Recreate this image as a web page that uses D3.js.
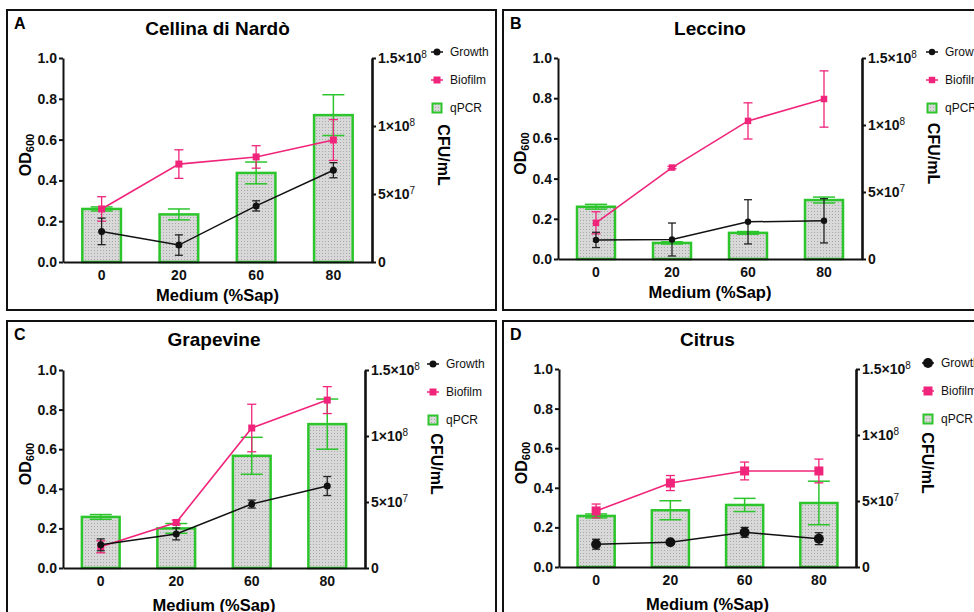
<!DOCTYPE html>
<html><head><meta charset="utf-8">
<script src="https://cdn.jsdelivr.net/npm/d3@7"></script>
<style>
body{margin:0;background:#fff;}
svg{display:block;font-family:"Liberation Sans", Arial, Helvetica, sans-serif;}
</style>
</head><body>
<svg id="chart" width="974" height="612"></svg>
<script>
// Medium composition (% sap) on the x axis
const categories = ["0", "20", "60", "80"];
const panelLetters = ["A", "B", "C", "D"];
const panelTitles = ["Cellina di Nardò", "Leccino", "Grapevine", "Citrus"];
const odTicks = [0, 0.2, 0.4, 0.6, 0.8, 1.0];
const cfuTicks = [0, 5e7, 1e8, 1.5e8];
const seriesNames = ["Growth", "Biofilm", "qPCR"];

// Cellina di Nardò
const cellinaGrowth = [0.15, 0.083, 0.275, 0.45];
const cellinaGrowthSd = [0.065, 0.05, 0.025, 0.037];
const cellinaBiofilm = [0.26, 0.48, 0.515, 0.598];
const cellinaBiofilmSd = [0.06, 0.07, 0.055, 0.1];
const cellinaQpcr = [3.9e7, 3.5e7, 6.55e7, 1.08e8];
const cellinaQpcrSd = [1.5e6, 4e6, 8e6, 1.5e7];

// Leccino
const leccinoGrowth = [0.095, 0.097, 0.185, 0.19];
const leccinoGrowthSd = [0.038, 0.082, 0.11, 0.11];
const leccinoBiofilm = [0.18, 0.455, 0.687, 0.796];
const leccinoBiofilmSd = [0.055, 0.006, 0.09, 0.14];
const leccinoQpcr = [3.9e7, 1.2e7, 1.95e7, 4.4e7];
const leccinoQpcrSd = [1.8e6, 8e5, 1e6, 2.2e6];

// Grapevine
const grapevineGrowth = [0.117, 0.172, 0.323, 0.414];
const grapevineGrowthSd = [0.03, 0.03, 0.02, 0.048];
const grapevineBiofilm = [0.107, 0.23, 0.707, 0.848];
const grapevineBiofilmSd = [0.03, 0.012, 0.12, 0.068];
const grapevineQpcr = [3.87e7, 3.0e7, 8.5e7, 1.09e8];
const grapevineQpcrSd = [1.8e6, 3.7e6, 1.4e7, 1.9e7];

// Citrus
const citrusGrowth = [0.115, 0.125, 0.175, 0.143];
const citrusGrowthSd = [0.025, 0.008, 0.025, 0.03];
const citrusBiofilm = [0.283, 0.424, 0.485, 0.485];
const citrusBiofilmSd = [0.035, 0.038, 0.045, 0.06];
const citrusQpcr = [3.87e7, 4.3e7, 4.7e7, 4.85e7];
const citrusQpcrSd = [1.5e6, 7.2e6, 5e6, 1.65e7];

const panelData = [
  {growth: cellinaGrowth, growthSd: cellinaGrowthSd, biofilm: cellinaBiofilm, biofilmSd: cellinaBiofilmSd, qpcr: cellinaQpcr, qpcrSd: cellinaQpcrSd},
  {growth: leccinoGrowth, growthSd: leccinoGrowthSd, biofilm: leccinoBiofilm, biofilmSd: leccinoBiofilmSd, qpcr: leccinoQpcr, qpcrSd: leccinoQpcrSd},
  {growth: grapevineGrowth, growthSd: grapevineGrowthSd, biofilm: grapevineBiofilm, biofilmSd: grapevineBiofilmSd, qpcr: grapevineQpcr, qpcrSd: grapevineQpcrSd},
  {growth: citrusGrowth, growthSd: citrusGrowthSd, biofilm: citrusBiofilm, biofilmSd: citrusBiofilmSd, qpcr: citrusQpcr, qpcrSd: citrusQpcrSd}
];

// Frame and plot geometry of each panel
const layout = [
  {box: [7, 10, 489, 300], left: 63, right: 372, top: 58, bottom: 262, legendX: 437, xLabelDy: 39, r: 3.5, sq: 7},
  {box: [503, 10, 480, 300], left: 558, right: 862, top: 58, bottom: 259, legendX: 932, xLabelDy: 39, r: 3.2, sq: 6.5},
  {box: [7, 321, 489, 300], left: 63, right: 365, top: 370, bottom: 568, legendX: 433, xLabelDy: 43, r: 3.5, sq: 7},
  {box: [503, 321, 480, 300], left: 559, right: 856, top: 369, bottom: 567, legendX: 928, xLabelDy: 43, r: 5, sq: 9}
];

const GREEN = "#2cc52c";
const PINK = "#f0247a";
const BLACK = "#111";

const svg = d3.select("#chart");

// stippled grey fill for the qPCR bars
const defs = svg.append("defs");
const pat = defs.append("pattern").attr("id", "stipple")
  .attr("width", 3).attr("height", 3).attr("patternUnits", "userSpaceOnUse");
pat.append("rect").attr("width", 3).attr("height", 3).attr("fill", "#d8d8d8");
pat.append("rect").attr("x", 1).attr("y", 1).attr("width", 1).attr("height", 1).attr("fill", "#a9a9a9");

function superLabel(text, d) {
  // d is a CFU tick value; write as m×10^e
  text.text(null);
  if (d === 0) { text.text("0"); return; }
  const e = Math.floor(Math.log10(d));
  const m = +(d / Math.pow(10, e)).toFixed(1);
  text.append("tspan").text(m + "×10");
  text.append("tspan").attr("dy", "-0.45em").attr("font-size", "10px").attr("font-weight", "normal").text(e);
}

function errorBar(g, x, y0, y1, capW, color, w) {
  g.append("line").attr("x1", x).attr("x2", x).attr("y1", y0).attr("y2", y1)
    .attr("stroke", color).attr("stroke-width", w);
  [y0, y1].forEach(y => g.append("line")
    .attr("x1", x - capW / 2).attr("x2", x + capW / 2).attr("y1", y).attr("y2", y)
    .attr("stroke", color).attr("stroke-width", w));
}

layout.forEach((L, i) => {
  const D = panelData[i];
  const g = svg.append("g");

  // panel frame
  g.append("rect").attr("x", L.box[0]).attr("y", L.box[1]).attr("width", L.box[2]).attr("height", L.box[3])
    .attr("fill", "none").attr("stroke", "#111").attr("stroke-width", 2);

  g.append("text").attr("x", L.box[0] + 7).attr("y", L.box[1] + 19)
    .attr("font-size", "16px").attr("font-weight", "bold").text(panelLetters[i]);

  g.append("text").attr("x", (L.left + L.right) / 2).attr("y", L.box[1] + 25)
    .attr("text-anchor", "middle").attr("font-size", "19px").attr("font-weight", "bold").text(panelTitles[i]);

  const x = d3.scaleBand().domain(categories).range([L.left, L.right]).padding(0);
  const yOd = d3.scaleLinear().domain([0, 1]).range([L.bottom, L.top]);
  const yCfu = d3.scaleLinear().domain([0, 1.5e8]).range([L.bottom, L.top]);
  const cx = c => x(c) + x.bandwidth() / 2;
  const barW = x.bandwidth() * 0.5;

  // qPCR bars (right axis)
  g.append("g").selectAll("rect").data(categories).join("rect")
    .attr("x", c => cx(c) - barW / 2)
    .attr("y", (c, j) => yCfu(D.qpcr[j]))
    .attr("width", barW)
    .attr("height", (c, j) => L.bottom - yCfu(D.qpcr[j]))
    .attr("fill", "url(#stipple)").attr("stroke", GREEN).attr("stroke-width", 2.5);

  const eg = g.append("g");
  categories.forEach((c, j) => {
    errorBar(eg, cx(c), yCfu(D.qpcr[j] + D.qpcrSd[j]), yCfu(D.qpcr[j] - D.qpcrSd[j]), 22, GREEN, 1.5);
  });

  // Biofilm line
  const line = d3.line().x(d => cx(d.c)).y(d => yOd(d.v));
  const bio = categories.map((c, j) => ({c, v: D.biofilm[j], s: D.biofilmSd[j]}));
  g.append("path").datum(bio).attr("d", line).attr("fill", "none").attr("stroke", PINK).attr("stroke-width", 1.6);
  bio.forEach(d => errorBar(g, cx(d.c), yOd(d.v + d.s), yOd(d.v - d.s), 9, PINK, 1.3));
  g.append("g").selectAll("rect").data(bio).join("rect")
    .attr("x", d => cx(d.c) - L.sq / 2).attr("y", d => yOd(d.v) - L.sq / 2)
    .attr("width", L.sq).attr("height", L.sq).attr("fill", PINK);

  // Growth line
  const gro = categories.map((c, j) => ({c, v: D.growth[j], s: D.growthSd[j]}));
  g.append("path").datum(gro).attr("d", line).attr("fill", "none").attr("stroke", BLACK).attr("stroke-width", 1.5);
  gro.forEach(d => errorBar(g, cx(d.c), yOd(d.v + d.s), yOd(d.v - d.s), 8, "#222", 1.3));
  g.append("g").selectAll("circle").data(gro).join("circle")
    .attr("cx", d => cx(d.c)).attr("cy", d => yOd(d.v)).attr("r", L.r).attr("fill", BLACK);

  // Axes
  const ax = g.append("g").attr("transform", `translate(${L.left},0)`)
    .call(d3.axisLeft(yOd).tickValues(odTicks).tickFormat(d3.format(".1f")).tickSize(4).tickSizeOuter(0).tickPadding(2));
  ax.select(".domain").attr("stroke", "#111").attr("stroke-width", 2);
  ax.selectAll(".tick line").attr("stroke", "#111").attr("stroke-width", 2);
  ax.selectAll(".tick text").attr("font-size", "14px").attr("font-weight", "bold").attr("fill", "#111")
    .attr("font-family", null);

  const ar = g.append("g").attr("transform", `translate(${L.right},0)`)
    .call(d3.axisRight(yCfu).tickValues(cfuTicks).tickSize(4).tickSizeOuter(0).tickPadding(2));
  ar.select(".domain").attr("stroke", "#111").attr("stroke-width", 2.6);
  ar.selectAll(".tick line").attr("stroke", "#111").attr("stroke-width", 2);
  ar.selectAll(".tick text").attr("font-size", "14px").attr("font-weight", "bold").attr("fill", "#111")
    .attr("font-family", null).each(function (d) { superLabel(d3.select(this), d); });

  const axb = g.append("g").attr("transform", `translate(0,${L.bottom})`)
    .call(d3.axisBottom(x).tickSize(0).tickSizeOuter(0).tickPadding(8));
  axb.select(".domain").attr("stroke", "#111").attr("stroke-width", 2);
  axb.selectAll(".tick text").attr("font-size", "14px").attr("font-weight", "bold").attr("fill", "#111")
    .attr("font-family", null);

  // Axis titles
  const midY = (L.top + L.bottom) / 2 - 5;
  const od = g.append("text").attr("transform", `translate(${L.left - 32},${midY}) rotate(-90)`)
    .attr("text-anchor", "middle").attr("font-size", "16px").attr("font-weight", "bold");
  od.append("tspan").text("OD");
  od.append("tspan").attr("dy", "0.3em").attr("font-size", "11px").text("600");

  g.append("text").attr("transform", `translate(${L.right + 66},${midY}) rotate(90)`)
    .attr("text-anchor", "middle").attr("font-size", "16px").attr("font-weight", "bold").text("CFU/mL");

  g.append("text").attr("x", (L.left + L.right) / 2).attr("y", L.bottom + L.xLabelDy)
    .attr("text-anchor", "middle").attr("font-size", "16.5px").attr("font-weight", "bold").text("Medium (%Sap)");

  // Legend
  const lg = g.append("g").attr("transform", `translate(${L.legendX},${L.top - 6})`);
  seriesNames.forEach((name, k) => {
    const yy = k * 28;
    if (k === 0) {
      lg.append("line").attr("x1", -6).attr("x2", 6).attr("y1", yy).attr("y2", yy).attr("stroke", BLACK).attr("stroke-width", 1.5);
      lg.append("circle").attr("cx", 0).attr("cy", yy).attr("r", L.r).attr("fill", BLACK);
    } else if (k === 1) {
      lg.append("line").attr("x1", -6).attr("x2", 6).attr("y1", yy).attr("y2", yy).attr("stroke", PINK).attr("stroke-width", 1.5);
      lg.append("rect").attr("x", -L.sq / 2).attr("y", yy - L.sq / 2).attr("width", L.sq).attr("height", L.sq).attr("fill", PINK);
    } else {
      lg.append("rect").attr("x", -4.5).attr("y", yy - 4.5).attr("width", 9).attr("height", 9)
        .attr("fill", "url(#stipple)").attr("stroke", GREEN).attr("stroke-width", 2);
    }
    lg.append("text").attr("x", 13).attr("y", yy + 4).attr("font-size", "12px").attr("fill", "#111").text(name);
  });
});
</script>
</body></html>
